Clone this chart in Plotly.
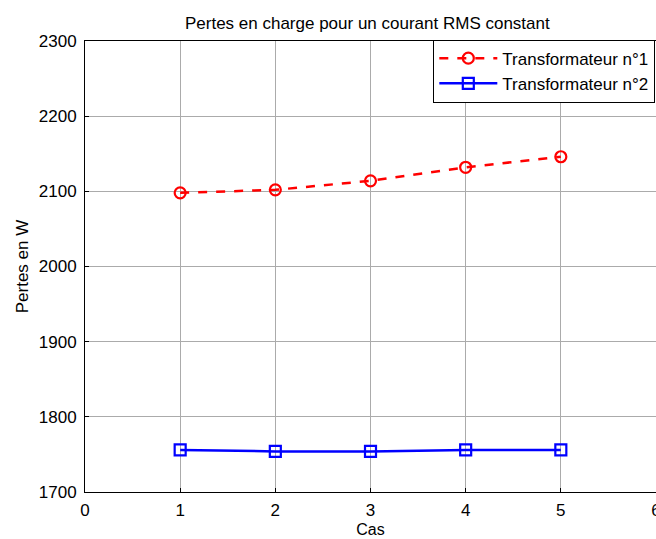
import plotly.graph_objects as go

cas = [1, 2, 3, 4, 5]
pertes_t1 = [2098, 2102, 2114, 2132, 2146]
pertes_t2 = [1756, 1754, 1754, 1756, 1756]
noms = ["Transformateur n°1", "Transformateur n°2"]

FONT = "Arial, Liberation Sans, Helvetica, sans-serif"

fig = go.Figure()
fig.add_trace(go.Scatter(
    x=cas, y=pertes_t1, name=noms[0], mode="lines+markers",
    line=dict(color="#ff0000", width=2.5, dash="dash"),
    marker=dict(symbol="circle-open", size=11, color="#ff0000", line=dict(width=2.2)),
))
fig.add_trace(go.Scatter(
    x=cas, y=pertes_t2, name=noms[1], mode="lines+markers",
    line=dict(color="#0000ff", width=2.5),
    marker=dict(symbol="square-open", size=11, color="#0000ff", line=dict(width=2.2)),
))

axis_common = dict(
    showgrid=True, gridcolor="#ababab", gridwidth=1,
    showline=True, linecolor="black", linewidth=1, mirror=True,
    ticks="inside", ticklen=4, tickcolor="black",
    zeroline=False, ticklabeloverflow="allow",
    tickfont=dict(family=FONT, size=17, color="black"),
)

fig.update_layout(
    width=656, height=539,
    margin=dict(l=85, r=0, t=41, b=47, autoexpand=False),
    paper_bgcolor="white", plot_bgcolor="white",
    title=dict(text="Pertes en charge pour un courant RMS constant",
               x=0.56, xanchor="center", y=0.957, yanchor="middle",
               font=dict(family=FONT, size=17, color="black")),
    xaxis=dict(range=[0, 6], dtick=1, tick0=0, ticklabelstandoff=3,
               title=dict(text="Cas", standoff=4,
                          font=dict(family=FONT, size=16, color="black")),
               **axis_common),
    yaxis=dict(range=[1700, 2300], dtick=100, ticklabelstandoff=4,
               title=dict(text="Pertes en W", standoff=5,
                          font=dict(family=FONT, size=17, color="black")),
               **axis_common),
    legend=dict(x=0.610, y=1.003, xanchor="left", yanchor="top",
                bgcolor="white", bordercolor="black", borderwidth=1,
                font=dict(family=FONT, size=17, color="black"),
                tracegroupgap=0, itemwidth=58),
    showlegend=True,
)

fig.write_html("out.html")
